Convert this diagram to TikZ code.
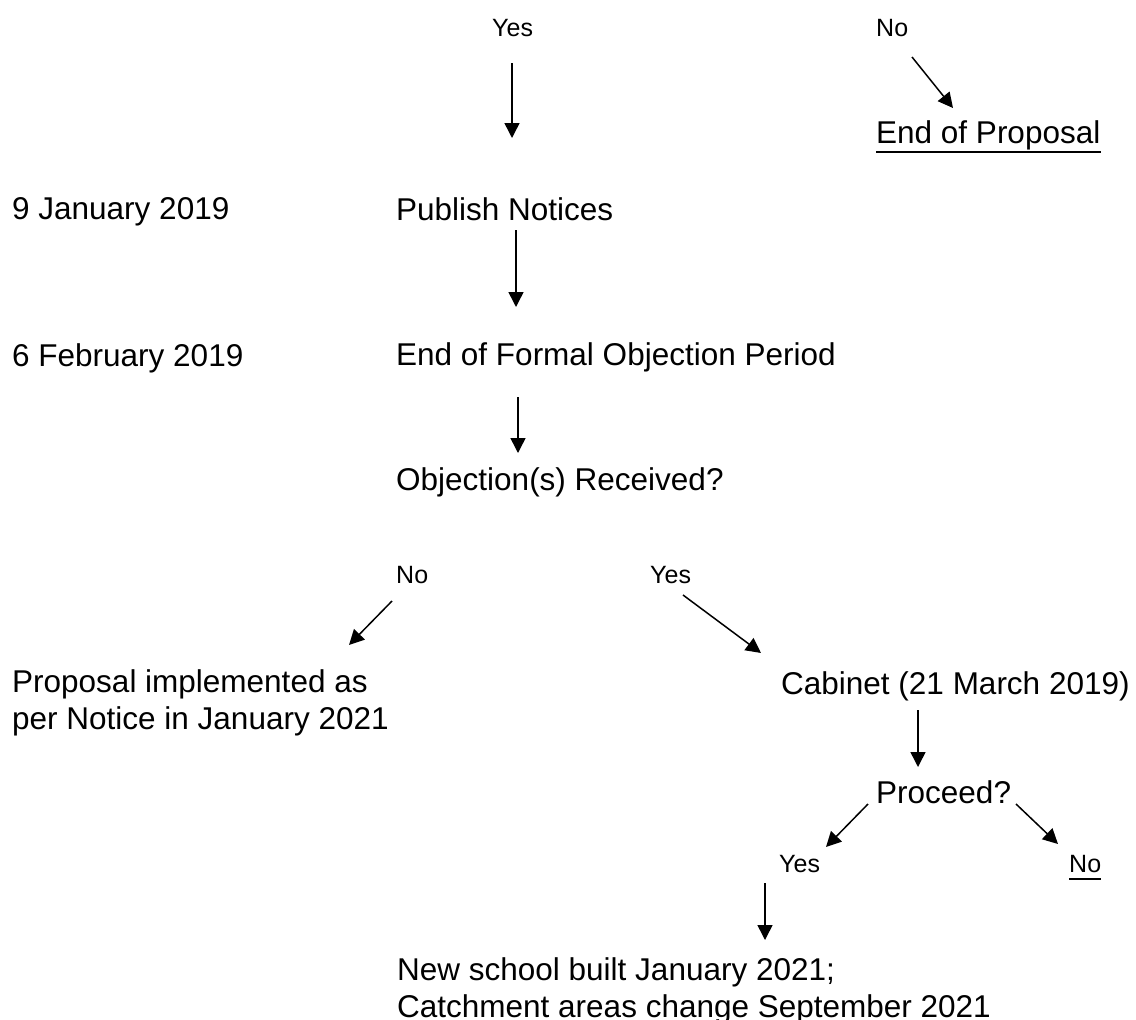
\documentclass[tikz,border=0pt]{standalone}
\usepackage{fontspec}
\setmainfont{Liberation Sans}
\usetikzlibrary{arrows.meta}
\begin{document}
\begin{tikzpicture}[x=1pt,y=-1pt,
  big/.style={font=\fontsize{31.5}{37}\selectfont,inner sep=0pt,anchor=base west},
  small/.style={font=\fontsize{25}{30}\selectfont,inner sep=0pt,anchor=base west},
  arr/.style={line width=1.5pt,-{Triangle[length=15pt,width=15pt]}},
  uline/.style={line width=2pt}]
\useasboundingbox (0,0) rectangle (1136,1020);
% top row
\node[small] (yes1) at (492,36) {Yes};
\node[small] (no1) at (876,36) {No};
\node[big] (endp) at (876,143) {End of Proposal};
\draw[uline] ([yshift=-9pt]endp.base west) -- ([yshift=-9pt]endp.base east);
\coordinate (a1s) at (512,63); \coordinate (a1e) at (512,138);
\draw[arr] (a1s) -- (a1e);
\coordinate (a2s) at (912,57); \coordinate (a2e) at (953,108);
\draw[arr] (a2s) -- (a2e);
% dates and steps
\node[big] (d1) at (12,219) {9 January 2019};
\node[big] (pub) at (396,220) {Publish Notices};
\coordinate (a3s) at (516,230); \coordinate (a3e) at (516,307);
\draw[arr] (a3s) -- (a3e);
\node[big] (d2) at (12,366) {6 February 2019};
\node[big] (efop) at (396,365) {End of Formal Objection Period};
\coordinate (a4s) at (518,397); \coordinate (a4e) at (518,453);
\draw[arr] (a4s) -- (a4e);
\node[big] (obj) at (396,490) {Objection(s) Received?};
% branches
\node[small] (no2) at (396,583) {No};
\node[small] (yes2) at (650,583) {Yes};
\coordinate (a5s) at (392,601); \coordinate (a5e) at (349,645);
\draw[arr] (a5s) -- (a5e);
\coordinate (a6s) at (683,595); \coordinate (a6e) at (761,653);
\draw[arr] (a6s) -- (a6e);
\node[big] (impl1) at (12,692) {Proposal implemented as};
\node[big] (impl2) at (12,729) {per Notice in January 2021};
\node[big] (cab) at (781,694) {Cabinet (21 March 2019)};
\coordinate (a7s) at (918,710); \coordinate (a7e) at (918,767);
\draw[arr] (a7s) -- (a7e);
\node[big] (proc) at (876,803) {Proceed?};
\coordinate (a8s) at (868,804); \coordinate (a8e) at (826,847);
\draw[arr] (a8s) -- (a8e);
\coordinate (a9s) at (1016,804); \coordinate (a9e) at (1058,844);
\draw[arr] (a9s) -- (a9e);
\node[small] (yes3) at (779,872) {Yes};
\node[small] (no3) at (1069,872) {No};
\draw[line width=1.5pt] ([yshift=-7pt]no3.base west) -- ([yshift=-7pt]no3.base east);
\coordinate (a10s) at (765,883); \coordinate (a10e) at (765,940);
\draw[arr] (a10s) -- (a10e);
\node[big] (new1) at (397,980) {New school built January 2021;};
\node[big] (new2) at (397,1017) {Catchment areas change September 2021};
\end{tikzpicture}
\end{document}
